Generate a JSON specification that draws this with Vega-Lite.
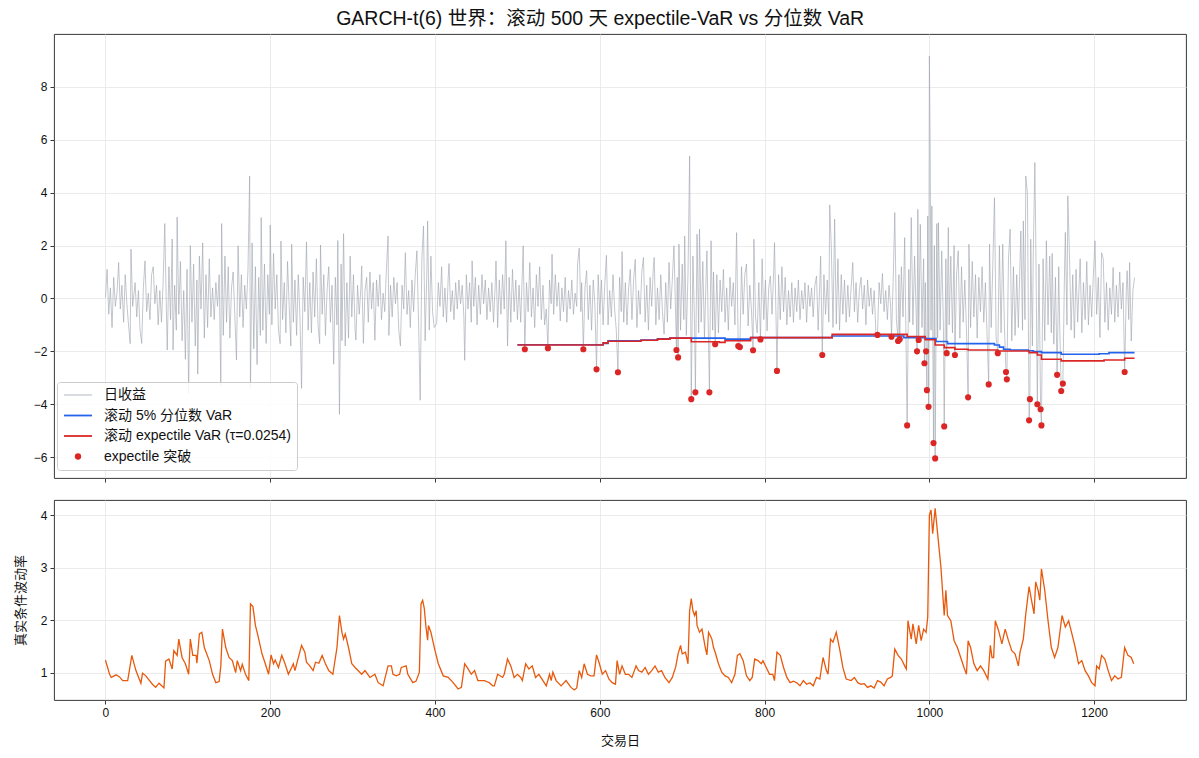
{
"$schema": "https://vega.github.io/schema/vega-lite/v6.json",
"background": "white",
"padding": {"left": 13, "top": 9, "right": 12, "bottom": 8},
"title": {"text": "GARCH-t(6) 世界：滚动 500 天 expectile-VaR vs 分位数 VaR", "fontSize": 19.5, "fontWeight": "normal", "font": "Liberation Sans, Noto Sans CJK SC", "color": "#111", "anchor": "middle", "frame": "bounds", "offset": 4},
"datasets": {
"ret": [
{"t":0,"r":0.03},{"t":2,"r":1.1},{"t":4,"r":-0.6},{"t":6,"r":0.4},{"t":8,"r":-1.1},{"t":10,"r":0.8},{"t":12,"r":-0.3},{"t":14,"r":0.2},{"t":16,"r":1.36},{"t":18,"r":-0.4},{"t":20,"r":0.5},{"t":22,"r":-0.9},{"t":24,"r":0.9},{"t":26,"r":-0.2},{"t":28,"r":-1.0},{"t":30,"r":-1.71},{"t":31,"r":1.86},{"t":33,"r":-0.3},{"t":36,"r":0.6},{"t":38,"r":-0.7},{"t":40,"r":0.3},{"t":42,"r":-1.2},{"t":44,"r":-1.7},{"t":46,"r":0.4},{"t":48,"r":1.42},{"t":50,"r":-0.5},{"t":52,"r":0.2},{"t":54,"r":-0.8},{"t":56,"r":0.9},{"t":58,"r":1.2},{"t":60,"r":-0.2},{"t":62,"r":0.5},{"t":64,"r":-1.0},{"t":66,"r":0.3},{"t":68,"r":-0.9},{"t":70,"r":0.6},
{"t":72,"r":2.83},{"t":74,"r":-0.5},{"t":75,"r":-1.95},{"t":77,"r":1.2},{"t":79,"r":-0.8},{"t":81,"r":2.25},{"t":82,"r":-1.95},{"t":84,"r":0.5},{"t":86,"r":-1.2},{"t":87,"r":3.08},{"t":89,"r":-0.6},{"t":91,"r":1.4},{"t":93,"r":-1.6},{"t":95,"r":0.3},{"t":97,"r":-2.3},{"t":99,"r":1.1},{"t":101,"r":-3.6},{"t":103,"r":2.0},{"t":105,"r":-0.9},{"t":107,"r":1.3},{"t":109,"r":-1.8},{"t":111,"r":0.7},{"t":112,"r":-2.86},{"t":114,"r":1.6},{"t":116,"r":-0.4},{"t":118,"r":2.1},{"t":120,"r":-1.5},{"t":122,"r":0.9},{"t":124,"r":-1.1},{"t":126,"r":1.5},{"t":128,"r":-0.7},{"t":130,"r":0.4},
{"t":132,"r":-0.8},{"t":134,"r":0.6},{"t":136,"r":-0.3},{"t":138,"r":0.9},{"t":140,"r":-3.3},{"t":141,"r":2.83},{"t":143,"r":-1.4},{"t":145,"r":1.6},{"t":147,"r":-0.9},{"t":149,"r":1.2},{"t":151,"r":-1.5},{"t":153,"r":0.4},{"t":155,"r":1.0},{"t":157,"r":-0.6},{"t":159,"r":-2.33},{"t":161,"r":1.99},{"t":163,"r":-0.7},{"t":165,"r":0.9},{"t":167,"r":-1.1},{"t":169,"r":0.5},{"t":171,"r":-0.4},{"t":173,"r":1.1},{"t":175,"r":4.63},{"t":176,"r":-3.4},
{"t":178,"r":2.1},{"t":180,"r":-1.9},{"t":182,"r":1.2},{"t":184,"r":-2.5},{"t":186,"r":0.8},{"t":188,"r":-1.4},{"t":189,"r":3.06},{"t":191,"r":-1.2},{"t":193,"r":1.3},{"t":195,"r":-1.7},{"t":197,"r":0.9},{"t":199,"r":-0.6},{"t":200,"r":2.78},
{"t":202,"r":-1.0},{"t":204,"r":1.7},{"t":206,"r":-0.4},{"t":208,"r":0.9},{"t":210,"r":-1.2},{"t":212,"r":-1.71},{"t":213,"r":2.17},{"t":215,"r":-0.8},{"t":217,"r":0.6},{"t":219,"r":-1.3},{"t":221,"r":1.4},{"t":223,"r":-0.3},{"t":225,"r":-1.8},{"t":226,"r":2.05},{"t":228,"r":-0.9},{"t":230,"r":0.7},{"t":232,"r":-1.4},{"t":234,"r":0.9},{"t":236,"r":-0.6},{"t":238,"r":-3.4},{"t":240,"r":0.8},{"t":242,"r":-0.5},{"t":244,"r":2.14},{"t":246,"r":-1.2},{"t":248,"r":0.6},{"t":250,"r":-1.3},{"t":252,"r":1.0},{"t":254,"r":-0.7},{"t":256,"r":1.5},{"t":258,"r":-1.0},{"t":260,"r":-1.71},{"t":261,"r":2.02},{"t":263,"r":-0.6},{"t":265,"r":0.9},{"t":267,"r":-1.4},{"t":269,"r":0.3},{"t":271,"r":1.2},{"t":273,"r":-0.9},{"t":275,"r":0.5},{"t":277,"r":-2.49},{"t":279,"r":0.8},{"t":281,"r":-1.0},{"t":282,"r":2.19},{"t":284,"r":-4.38},
{"t":286,"r":1.3},{"t":287,"r":-1.6},{"t":289,"r":2.45},{"t":291,"r":-1.8},{"t":293,"r":0.6},{"t":295,"r":-1.5},{"t":297,"r":1.6},{"t":299,"r":-0.7},
{"t":301,"r":0.9},{"t":303,"r":-1.2},{"t":304,"r":-1.57},{"t":306,"r":0.5},{"t":308,"r":-0.6},{"t":310,"r":0.4},{"t":311,"r":1.23},{"t":313,"r":-1.7},{"t":315,"r":0.3},{"t":317,"r":0.8},{"t":319,"r":-0.9},{"t":321,"r":1.0},{"t":323,"r":-0.4},{"t":325,"r":0.6},{"t":327,"r":-1.58},{"t":329,"r":0.7},{"t":331,"r":-0.3},{"t":333,"r":0.9},{"t":335,"r":-0.8},{"t":337,"r":0.2},{"t":339,"r":-0.5},{"t":341,"r":1.1},{"t":343,"r":2.36},{"t":344,"r":-1.4},{"t":346,"r":0.5},{"t":348,"r":-0.7},{"t":350,"r":0.8},{"t":352,"r":-0.2},{"t":354,"r":0.6},{"t":356,"r":-1.2},{"t":358,"r":-1.8},{"t":360,"r":0.5},{"t":362,"r":-0.4},{"t":364,"r":1.73},{"t":366,"r":-0.6},{"t":368,"r":0.3},{"t":370,"r":-1.1},{"t":372,"r":0.7},{"t":374,"r":-0.5},{"t":376,"r":0.9},{"t":378,"r":1.8},{"t":380,"r":-0.9},{"t":382,"r":-3.85},
{"t":384,"r":1.5},{"t":386,"r":2.74},{"t":388,"r":-1.6},{"t":390,"r":0.9},{"t":391,"r":2.93},{"t":393,"r":-1.2},{"t":395,"r":1.6},{"t":397,"r":-0.5},{"t":399,"r":-1.1},
{"t":402,"r":-0.95},{"t":404,"r":0.6},{"t":406,"r":-0.3},{"t":408,"r":1.2},{"t":410,"r":-0.7},{"t":412,"r":0.4},{"t":414,"r":-0.9},{"t":416,"r":0.8},{"t":417,"r":1.32},{"t":419,"r":-0.5},{"t":421,"r":0.3},{"t":423,"r":-0.8},{"t":425,"r":0.6},{"t":427,"r":-0.4},{"t":429,"r":0.7},{"t":431,"r":-0.2},{"t":433,"r":0.5},{"t":435,"r":-0.7},{"t":436,"r":-2.34},{"t":438,"r":0.9},{"t":440,"r":-0.4},{"t":442,"r":0.6},{"t":444,"r":-0.9},{"t":445,"r":1.42},{"t":447,"r":-0.3},{"t":449,"r":0.8},{"t":451,"r":-1.0},{"t":453,"r":0.5},{"t":455,"r":-0.6},{"t":457,"r":0.9},{"t":459,"r":-0.2},{"t":461,"r":0.7},{"t":463,"r":-0.8},{"t":465,"r":0.4},{"t":467,"r":-0.5},{"t":469,"r":0.6},
{"t":471,"r":-0.9},{"t":473,"r":0.5},{"t":474,"r":1.42},{"t":476,"r":-1.1},{"t":478,"r":0.7},{"t":480,"r":-0.6},{"t":482,"r":0.9},{"t":484,"r":-0.4},{"t":486,"r":2.18},{"t":488,"r":-1.8},{"t":490,"r":0.8},{"t":492,"r":-0.9},{"t":494,"r":1.1},{"t":496,"r":-0.5},{"t":498,"r":0.7},{"t":500,"r":-0.8},
{"t":502,"r":0.5},{"t":504,"r":-0.9},{"t":506,"r":1.0},{"t":507,"r":1.99},{"t":509,"r":-1.92},{"t":511,"r":0.6},{"t":513,"r":-0.5},{"t":515,"r":1.36},{"t":517,"r":-0.7},{"t":519,"r":0.4},{"t":521,"r":-1.1},{"t":523,"r":0.9},{"t":525,"r":-0.3},{"t":527,"r":1.2},{"t":529,"r":-0.8},{"t":531,"r":0.5},{"t":533,"r":-1.0},{"t":535,"r":-0.4},{"t":537,"r":-1.88},{"t":539,"r":0.7},{"t":541,"r":-0.2},{"t":542,"r":1.67},{"t":544,"r":-0.6},{"t":546,"r":0.9},{"t":548,"r":-0.3},{"t":550,"r":0.6},{"t":552,"r":-0.85},{"t":554,"r":0.4},{"t":556,"r":-0.5},{"t":558,"r":0.8},{"t":560,"r":-0.9},{"t":562,"r":0.3},{"t":564,"r":-0.4},{"t":566,"r":0.7},{"t":568,"r":-0.6},{"t":570,"r":0.2},{"t":572,"r":-0.3},{"t":573,"r":1.3},{"t":575,"r":1.9},{"t":577,"r":-0.5},{"t":578,"r":0.6},{"t":580,"r":-1.92},{"t":582,"r":0.4},{"t":584,"r":1.05},{"t":586,"r":-0.8},{"t":588,"r":0.5},{"t":590,"r":-1.2},{"t":592,"r":0.7},{"t":594,"r":-0.2},{"t":596,"r":-2.68},{"t":598,"r":0.9},{"t":600,"r":-0.6},{"t":602,"r":0.7},{"t":604,"r":-1.0},{"t":606,"r":0.5},{"t":608,"r":1.63},{"t":610,"r":-1.0},{"t":612,"r":0.3},{"t":614,"r":-0.7},{"t":616,"r":0.9},{"t":618,"r":-0.4},{"t":620,"r":-1.2},{"t":622,"r":-2.79},{"t":624,"r":0.8},{"t":626,"r":-0.5},{"t":627,"r":1.77},{"t":629,"r":-0.9},{"t":631,"r":0.6},{"t":633,"r":-1.0},{"t":635,"r":0.4},{"t":637,"r":1.1},{"t":639,"r":-0.8},{"t":641,"r":0.7},{"t":643,"r":1.48},{"t":645,"r":-1.1},{"t":647,"r":0.3},{"t":649,"r":-0.6},{"t":651,"r":1.0},{"t":653,"r":1.55},{"t":655,"r":-0.9},{"t":657,"r":0.5},{"t":659,"r":-1.2},{"t":661,"r":0.8},{"t":663,"r":-0.3},{"t":665,"r":1.2},{"t":666,"r":1.55},{"t":668,"r":-1.0},{"t":670,"r":0.4},{"t":672,"r":-0.8},{"t":674,"r":0.9},{"t":676,"r":-0.5},{"t":678,"r":-1.35},{"t":680,"r":0.6},{"t":682,"r":-0.9},{"t":684,"r":1.36},{"t":686,"r":-0.4},{"t":688,"r":0.7},{"t":690,"r":1.99},{"t":692,"r":-0.6},{"t":693,"r":-1.95},{"t":694,"r":0.8},{"t":695,"r":-2.23},{"t":696,"r":2.05},
{"t":698,"r":-1.2},{"t":700,"r":1.3},{"t":702,"r":-0.8},{"t":703,"r":2.36},{"t":705,"r":-1.4},{"t":707,"r":0.9},{"t":709,"r":5.39},{"t":711,"r":-3.81},{"t":713,"r":1.6},{"t":715,"r":-1.0},{"t":716,"r":-3.55},{"t":718,"r":2.43},{"t":720,"r":-1.3},{"t":721,"r":2.62},{"t":723,"r":-0.9},{"t":725,"r":1.4},{"t":727,"r":-1.5},{"t":729,"r":0.8},{"t":730,"r":1.8},{"t":733,"r":-3.55},{"t":735,"r":2.18},{"t":737,"r":-1.2},{"t":738,"r":1.0},{"t":740,"r":-1.73},{"t":742,"r":0.9},{"t":744,"r":-1.3},
{"t":746,"r":0.7},{"t":748,"r":-0.5},{"t":750,"r":1.1},{"t":752,"r":-0.9},{"t":754,"r":0.4},{"t":756,"r":-1.2},{"t":758,"r":0.8},{"t":760,"r":-0.3},{"t":762,"r":0.6},{"t":764,"r":-1.0},{"t":766,"r":2.49},{"t":768,"r":-1.8},{"t":770,"r":-1.84},{"t":772,"r":1.2},{"t":774,"r":-0.6},{"t":776,"r":0.9},{"t":778,"r":1.3},{"t":780,"r":-1.04},{"t":782,"r":0.5},{"t":784,"r":-0.4},{"t":786,"r":-1.96},{"t":787,"r":2.24},{"t":789,"r":-0.7},{"t":791,"r":-1.3},{"t":793,"r":0.6},{"t":795,"r":-1.55},{"t":797,"r":1.5},{"t":799,"r":-0.8},{"t":801,"r":0.7},{"t":803,"r":-1.23},{"t":805,"r":0.4},{"t":807,"r":0.85},{"t":809,"r":-0.6},{"t":811,"r":1.0},{"t":812,"r":2.11},{"t":814,"r":-0.9},{"t":815,"r":-2.74},{"t":817,"r":0.9},{"t":819,"r":-0.8},{"t":821,"r":1.2},{"t":823,"r":-0.5},{"t":825,"r":0.8},{"t":827,"r":-1.0},{"t":829,"r":0.3},{"t":831,"r":-0.7},{"t":833,"r":0.6},{"t":835,"r":-0.9},{"t":837,"r":0.4},{"t":839,"r":-0.5},{"t":841,"r":0.7},{"t":843,"r":-0.8},{"t":845,"r":0.3},{"t":847,"r":-0.4},{"t":849,"r":0.6},{"t":851,"r":-0.9},{"t":853,"r":0.5},{"t":855,"r":-0.3},{"t":857,"r":0.4},{"t":859,"r":-0.7},{"t":861,"r":0.5},{"t":863,"r":0.85},{"t":865,"r":-1.2},{"t":867,"r":0.6},{"t":868,"r":1.6},{"t":870,"r":-2.14},{"t":872,"r":0.9},{"t":874,"r":-0.6},{"t":876,"r":0.7},{"t":878,"r":-0.9},{"t":879,"r":3.54},{"t":881,"r":1.92},{"t":883,"r":-1.1},{"t":885,"r":3.0},{"t":887,"r":-0.97},{"t":889,"r":1.5},{"t":891,"r":-1.2},{"t":893,"r":0.9},{"t":895,"r":-0.6},{"t":897,"r":0.7},{"t":899,"r":-0.9},
{"t":901,"r":0.5},{"t":903,"r":-0.7},{"t":905,"r":0.4},{"t":907,"r":1.36},{"t":909,"r":-0.5},{"t":911,"r":0.6},{"t":913,"r":-0.9},{"t":915,"r":0.3},{"t":917,"r":0.8},{"t":919,"r":-0.4},{"t":921,"r":0.5},{"t":923,"r":-1.0},{"t":925,"r":0.7},{"t":927,"r":-0.3},{"t":929,"r":0.4},{"t":931,"r":-0.6},{"t":933,"r":0.3},{"t":935,"r":-1.25},{"t":937,"r":-1.38},{"t":939,"r":0.6},{"t":941,"r":-0.2},{"t":943,"r":0.94},{"t":945,"r":-0.5},{"t":947,"r":0.3},{"t":949,"r":-0.8},{"t":951,"r":0.5},{"t":953,"r":-0.3},{"t":954,"r":-1.45},{"t":956,"r":0.6},
{"t":958,"r":3.25},{"t":960,"r":-0.8},{"t":962,"r":-1.61},{"t":963,"r":0.9},{"t":964,"r":-1.54},{"t":966,"r":1.2},{"t":968,"r":-0.7},{"t":970,"r":2.3},{"t":973,"r":-4.8},{"t":975,"r":1.1},{"t":976,"r":-0.9},{"t":978,"r":3.06},{"t":980,"r":-1.0},{"t":982,"r":1.6},{"t":984,"r":-0.6},{"t":985,"r":-2.0},{"t":986,"r":3.37},{"t":987,"r":-1.57},{"t":989,"r":2.8},{"t":991,"r":-1.1},{"t":993,"r":1.5},{"t":994,"r":-2.45},{"t":995,"r":0.6},{"t":996,"r":-2.0},{"t":997,"r":-3.47},{"t":998,"r":3.12},{"t":999,"r":-4.1},{"t":1000,"r":9.17},{"t":1001,"r":5.52},
{"t":1002,"r":-1.2},{"t":1003,"r":3.5},{"t":1005,"r":-5.47},{"t":1006,"r":2.0},{"t":1007,"r":-6.05},{"t":1009,"r":2.83},{"t":1010,"r":-1.5},{"t":1011,"r":2.87},{"t":1013,"r":-1.2},{"t":1015,"r":1.8},{"t":1017,"r":-1.0},{"t":1018,"r":-4.84},{"t":1020,"r":1.5},{"t":1021,"r":-2.07},{"t":1023,"r":2.68},{"t":1024,"r":-1.0},{"t":1026,"r":1.6},{"t":1028,"r":-1.3},{"t":1030,"r":2.0},{"t":1031,"r":-2.14},{"t":1033,"r":0.9},{"t":1035,"r":1.8},{"t":1037,"r":-1.5},{"t":1039,"r":1.2},{"t":1041,"r":-0.9},{"t":1043,"r":0.7},{"t":1045,"r":-1.2},{"t":1047,"r":-3.74},{"t":1048,"r":2.05},{"t":1050,"r":-1.1},{"t":1052,"r":1.4},{"t":1054,"r":-0.7},{"t":1056,"r":0.9},{"t":1058,"r":-1.5},{"t":1060,"r":0.8},{"t":1062,"r":-0.5},{"t":1064,"r":1.2},{"t":1066,"r":-0.9},{"t":1068,"r":0.6},{"t":1070,"r":-1.4},{"t":1072,"r":-3.25},{"t":1073,"r":2.05},{"t":1075,"r":-1.1},{"t":1077,"r":1.3},{"t":1079,"r":3.81},{"t":1081,"r":-1.5},{"t":1083,"r":-2.07},{"t":1085,"r":2.0},{"t":1087,"r":-1.3},{"t":1089,"r":2.05},{"t":1091,"r":-1.0},{"t":1093,"r":-2.78},{"t":1094,"r":-3.06},{"t":1096,"r":1.5},{"t":1098,"r":2.62},{"t":1100,"r":-1.6},{"t":1102,"r":1.2},{"t":1104,"r":-1.4},{"t":1106,"r":0.9},{"t":1108,"r":-1.1},{"t":1110,"r":1.4},{"t":1111,"r":2.55},{"t":1113,"r":-1.2},{"t":1114,"r":2.93},{"t":1116,"r":-0.8},{"t":1117,"r":4.63},{"t":1119,"r":3.94},{"t":1121,"r":-4.61},{"t":1122,"r":-3.81},{"t":1123,"r":2.24},{"t":1125,"r":-1.8},{"t":1126,"r":1.5},{"t":1128,"r":5.14},{"t":1129,"r":2.6},{"t":1131,"r":-4.0},{"t":1133,"r":1.3},{"t":1135,"r":-4.19},{"t":1136,"r":-4.8},{"t":1138,"r":1.5},{"t":1140,"r":-1.6},{"t":1142,"r":2.18},{"t":1144,"r":-1.0},{"t":1146,"r":1.6},{"t":1148,"r":-1.3},{"t":1149,"r":1.7},{"t":1151,"r":-1.73},{"t":1153,"r":0.8},{"t":1155,"r":-2.89},{"t":1157,"r":1.2},{"t":1158,"r":-0.8},{"t":1160,"r":-3.5},{"t":1162,"r":-3.22},{"t":1164,"r":1.0},{"t":1165,"r":2.5},{"t":1167,"r":-1.0},{"t":1168,"r":3.88},{"t":1170,"r":1.65},{"t":1172,"r":-1.2},{"t":1174,"r":0.9},{"t":1176,"r":-1.5},{"t":1178,"r":1.1},{"t":1180,"r":-0.9},{"t":1182,"r":0.7},{"t":1183,"r":1.5},{"t":1185,"r":-1.3},{"t":1187,"r":0.6},{"t":1189,"r":-0.8},{"t":1191,"r":1.4},{"t":1193,"r":-1.0},{"t":1195,"r":0.5},{"t":1197,"r":-0.7},{"t":1199,"r":0.9},{"t":1201,"r":2.18},{"t":1203,"r":-0.6},{"t":1205,"r":0.8},{"t":1207,"r":-1.48},{"t":1209,"r":1.73},{"t":1211,"r":1.5},{"t":1213,"r":-0.9},{"t":1215,"r":0.6},{"t":1217,"r":-1.2},{"t":1219,"r":0.4},{"t":1221,"r":-0.6},{"t":1223,"r":1.17},{"t":1225,"r":-0.9},{"t":1227,"r":0.5},{"t":1229,"r":-0.7},{"t":1231,"r":1.0},{"t":1233,"r":-0.4},{"t":1235,"r":0.6},{"t":1237,"r":-2.78},{"t":1239,"r":0.3},{"t":1240,"r":1.05},{"t":1242,"r":-0.8},{"t":1243,"r":1.36},{"t":1245,"r":-1.61},{"t":1247,"r":0.3},{"t":1249,"r":0.79}
],
"q": [
{"t":500,"v":-1.75},{"t":598,"v":-1.75},{"t":604,"v":-1.7},{"t":610,"v":-1.6},{"t":650,"v":-1.57},{"t":670,"v":-1.53},{"t":685,"v":-1.5},{"t":745,"v":-1.5},{"t":752,"v":-1.54},{"t":783,"v":-1.48},{"t":882,"v":-1.42},{"t":969,"v":-1.48},{"t":995,"v":-1.52},{"t":1008,"v":-1.63},{"t":1022,"v":-1.71},{"t":1079,"v":-1.76},{"t":1085,"v":-1.84},{"t":1090,"v":-1.92},{"t":1098,"v":-1.95},{"t":1120,"v":-1.98},{"t":1126,"v":-2.01},{"t":1136,"v":-2.05},{"t":1160,"v":-2.11},{"t":1206,"v":-2.09},{"t":1218,"v":-2.05},{"t":1249,"v":-2.05}
],
"e": [
{"t":500,"v":-1.76},{"t":598,"v":-1.76},{"t":604,"v":-1.68},{"t":610,"v":-1.62},{"t":650,"v":-1.58},{"t":670,"v":-1.54},{"t":685,"v":-1.5},{"t":711,"v":-1.64},{"t":745,"v":-1.66},{"t":752,"v":-1.6},{"t":783,"v":-1.48},{"t":882,"v":-1.36},{"t":973,"v":-1.44},{"t":995,"v":-1.56},{"t":1007,"v":-1.76},{"t":1018,"v":-1.86},{"t":1031,"v":-1.92},{"t":1047,"v":-1.95},{"t":1083,"v":-1.99},{"t":1121,"v":-2.05},{"t":1131,"v":-2.14},{"t":1136,"v":-2.3},{"t":1160,"v":-2.36},{"t":1212,"v":-2.33},{"t":1237,"v":-2.26},{"t":1249,"v":-2.26}
],
"br": [
{"t":509,"v":-1.92},{"t":537,"v":-1.88},{"t":580,"v":-1.92},{"t":596,"v":-2.68},{"t":622,"v":-2.79},{"t":693,"v":-1.95},{"t":695,"v":-2.23},{"t":711,"v":-3.81},{"t":716,"v":-3.55},{"t":733,"v":-3.55},{"t":740,"v":-1.73},{"t":768,"v":-1.8},{"t":770,"v":-1.84},{"t":786,"v":-1.96},{"t":795,"v":-1.55},{"t":815,"v":-2.74},{"t":870,"v":-2.14},{"t":937,"v":-1.38},{"t":954,"v":-1.45},{"t":962,"v":-1.61},{"t":964,"v":-1.54},{"t":973,"v":-4.8},{"t":985,"v":-2.0},{"t":987,"v":-1.57},{"t":994,"v":-2.45},{"t":996,"v":-2.0},{"t":997,"v":-3.47},{"t":999,"v":-4.1},{"t":1005,"v":-5.47},{"t":1007,"v":-6.05},{"t":1018,"v":-4.84},{"t":1021,"v":-2.07},{"t":1031,"v":-2.14},{"t":1047,"v":-3.74},{"t":1072,"v":-3.25},{"t":1083,"v":-2.07},{"t":1093,"v":-2.78},{"t":1094,"v":-3.06},{"t":1121,"v":-4.61},{"t":1122,"v":-3.81},{"t":1131,"v":-4.0},{"t":1135,"v":-4.19},{"t":1136,"v":-4.8},{"t":1155,"v":-2.89},{"t":1160,"v":-3.5},{"t":1162,"v":-3.22},{"t":1237,"v":-2.78}
],
"vol": [
{"t":0,"v":1.24},{"t":5,"v":0.97},{"t":7,"v":0.91},{"t":13,"v":0.96},{"t":17,"v":0.92},{"t":21,"v":0.85},{"t":27,"v":0.85},{"t":32,"v":1.33},{"t":37,"v":1.04},{"t":43,"v":0.8},{"t":45,"v":0.99},{"t":49,"v":0.94},{"t":53,"v":0.86},{"t":57,"v":0.78},{"t":61,"v":0.72},{"t":65,"v":0.8},{"t":71,"v":0.71},{"t":73,"v":1.22},{"t":77,"v":1.26},{"t":81,"v":1.07},{"t":83,"v":1.42},{"t":87,"v":1.33},{"t":89,"v":1.64},{"t":93,"v":1.29},{"t":97,"v":1.17},{"t":101,"v":0.97},{"t":103,"v":1.64},{"t":106,"v":1.33},{"t":110,"v":1.33},{"t":111,"v":1.18},{"t":114,"v":1.74},{"t":117,"v":1.77},{"t":120,"v":1.48},{"t":126,"v":1.23},{"t":130,"v":0.97},{"t":134,"v":0.81},{"t":138,"v":0.83},{"t":140,"v":1.13},{"t":142,"v":1.83},{"t":146,"v":1.48},{"t":150,"v":1.29},{"t":154,"v":1.23},{"t":158,"v":1.0},{"t":160,"v":1.23},{"t":164,"v":1.04},{"t":166,"v":1.16},{"t":170,"v":0.97},{"t":174,"v":0.85},{"t":176,"v":2.31},{"t":179,"v":2.26},{"t":182,"v":1.9},{"t":185,"v":1.71},{"t":190,"v":1.36},{"t":194,"v":1.17},{"t":198,"v":0.97},{"t":201,"v":1.34},{"t":204,"v":1.17},{"t":206,"v":1.24},{"t":210,"v":1.1},{"t":214,"v":1.33},{"t":218,"v":1.17},{"t":222,"v":0.97},{"t":226,"v":1.1},{"t":228,"v":1.17},{"t":230,"v":1.04},{"t":238,"v":1.52},{"t":242,"v":1.39},{"t":244,"v":1.2},{"t":248,"v":1.13},{"t":252,"v":1.04},{"t":255,"v":1.2},{"t":259,"v":1.18},{"t":263,"v":1.33},{"t":267,"v":1.17},{"t":271,"v":1.04},{"t":276,"v":0.97},{"t":281,"v":1.48},{"t":284,"v":2.09},{"t":287,"v":1.77},{"t":289,"v":1.64},{"t":291,"v":1.74},{"t":295,"v":1.48},{"t":299,"v":1.17},{"t":303,"v":1.1},{"t":311,"v":0.97},{"t":315,"v":1.04},{"t":321,"v":0.91},{"t":327,"v":0.97},{"t":331,"v":0.81},{"t":337,"v":0.75},{"t":343,"v":1.13},{"t":347,"v":1.13},{"t":349,"v":0.97},{"t":353,"v":0.94},{"t":357,"v":0.97},{"t":359,"v":1.1},{"t":365,"v":1.13},{"t":367,"v":0.97},{"t":373,"v":0.81},{"t":377,"v":0.84},{"t":381,"v":1.01},{"t":383,"v":2.31},{"t":385,"v":2.38},{"t":387,"v":2.22},{"t":389,"v":1.87},{"t":391,"v":1.62},{"t":392,"v":1.9},{"t":395,"v":1.77},{"t":400,"v":1.42},{"t":404,"v":1.17},{"t":410,"v":0.94},{"t":416,"v":0.91},{"t":422,"v":0.81},{"t":428,"v":0.69},{"t":432,"v":0.72},{"t":436,"v":1.17},{"t":439,"v":1.1},{"t":444,"v":0.97},{"t":448,"v":1.04},{"t":452,"v":0.85},{"t":460,"v":0.85},{"t":466,"v":0.81},{"t":470,"v":0.75},{"t":472,"v":0.75},{"t":476,"v":0.97},{"t":482,"v":0.91},{"t":484,"v":0.97},{"t":488,"v":1.26},{"t":492,"v":1.13},{"t":496,"v":0.91},{"t":500,"v":0.97},{"t":504,"v":0.91},{"t":506,"v":0.85},{"t":510,"v":1.17},{"t":514,"v":1.07},{"t":518,"v":1.13},{"t":522,"v":0.91},{"t":526,"v":0.97},{"t":531,"v":0.85},{"t":535,"v":0.75},{"t":539,"v":0.97},{"t":541,"v":0.85},{"t":543,"v":1.01},{"t":547,"v":0.85},{"t":553,"v":0.75},{"t":559,"v":0.85},{"t":565,"v":0.72},{"t":569,"v":0.67},{"t":572,"v":0.71},{"t":575,"v":1.04},{"t":578,"v":0.91},{"t":581,"v":1.17},{"t":585,"v":0.97},{"t":589,"v":0.94},{"t":593,"v":0.94},{"t":596,"v":1.34},{"t":599,"v":1.2},{"t":603,"v":0.97},{"t":607,"v":1.04},{"t":611,"v":0.88},{"t":615,"v":0.81},{"t":619,"v":0.78},{"t":621,"v":1.23},{"t":624,"v":0.97},{"t":627,"v":1.13},{"t":631,"v":0.97},{"t":635,"v":0.97},{"t":639,"v":0.91},{"t":644,"v":1.13},{"t":647,"v":1.04},{"t":651,"v":1.01},{"t":655,"v":1.1},{"t":659,"v":0.97},{"t":663,"v":1.04},{"t":667,"v":1.13},{"t":671,"v":1.01},{"t":675,"v":1.04},{"t":679,"v":0.91},{"t":684,"v":0.81},{"t":688,"v":0.91},{"t":690,"v":1.01},{"t":692,"v":1.1},{"t":695,"v":1.36},{"t":698,"v":1.52},{"t":700,"v":1.36},{"t":704,"v":1.39},{"t":707,"v":1.17},{"t":709,"v":2.18},{"t":711,"v":2.41},{"t":713,"v":2.18},{"t":715,"v":2.09},{"t":717,"v":2.18},{"t":718,"v":1.9},{"t":721,"v":1.77},{"t":724,"v":1.83},{"t":728,"v":1.48},{"t":730,"v":1.34},{"t":732,"v":1.77},{"t":734,"v":1.71},{"t":736,"v":1.64},{"t":738,"v":1.48},{"t":740,"v":1.39},{"t":744,"v":1.17},{"t":748,"v":1.01},{"t":752,"v":0.94},{"t":756,"v":0.91},{"t":760,"v":0.81},{"t":764,"v":0.97},{"t":767,"v":1.33},{"t":770,"v":1.36},{"t":774,"v":1.23},{"t":778,"v":0.94},{"t":782,"v":0.85},{"t":785,"v":0.91},{"t":788,"v":1.26},{"t":792,"v":1.23},{"t":796,"v":1.17},{"t":798,"v":1.23},{"t":802,"v":1.1},{"t":806,"v":0.97},{"t":810,"v":0.97},{"t":812,"v":0.85},{"t":815,"v":1.39},{"t":819,"v":1.33},{"t":823,"v":1.1},{"t":827,"v":0.91},{"t":831,"v":0.81},{"t":835,"v":0.84},{"t":839,"v":0.81},{"t":843,"v":0.75},{"t":847,"v":0.85},{"t":851,"v":0.78},{"t":855,"v":0.81},{"t":859,"v":0.75},{"t":863,"v":0.91},{"t":867,"v":0.88},{"t":871,"v":1.29},{"t":875,"v":1.04},{"t":877,"v":0.97},{"t":880,"v":1.64},{"t":883,"v":1.58},{"t":887,"v":1.77},{"t":891,"v":1.46},{"t":895,"v":1.1},{"t":899,"v":0.88},{"t":905,"v":0.85},{"t":909,"v":0.91},{"t":913,"v":0.81},{"t":917,"v":0.78},{"t":921,"v":0.79},{"t":925,"v":0.72},{"t":929,"v":0.75},{"t":933,"v":0.71},{"t":937,"v":0.85},{"t":941,"v":0.82},{"t":945,"v":0.75},{"t":949,"v":0.88},{"t":953,"v":0.91},{"t":955,"v":0.94},{"t":958,"v":1.45},{"t":962,"v":1.33},{"t":966,"v":1.26},{"t":970,"v":1.13},{"t":972,"v":1.07},{"t":974,"v":1.99},{"t":978,"v":1.64},{"t":980,"v":1.93},{"t":984,"v":1.55},{"t":987,"v":1.9},{"t":990,"v":1.61},{"t":993,"v":1.83},{"t":996,"v":1.77},{"t":998,"v":2.06},{"t":1000,"v":4.0},{"t":1002,"v":4.1},{"t":1004,"v":3.65},{"t":1007,"v":4.13},{"t":1010,"v":3.65},{"t":1014,"v":3.01},{"t":1018,"v":2.09},{"t":1020,"v":2.57},{"t":1022,"v":2.09},{"t":1026,"v":1.99},{"t":1030,"v":1.61},{"t":1034,"v":1.48},{"t":1038,"v":1.29},{"t":1042,"v":1.1},{"t":1045,"v":0.97},{"t":1047,"v":1.61},{"t":1050,"v":1.48},{"t":1054,"v":1.17},{"t":1058,"v":1.04},{"t":1062,"v":1.13},{"t":1066,"v":1.04},{"t":1071,"v":0.88},{"t":1074,"v":1.52},{"t":1076,"v":1.29},{"t":1078,"v":1.29},{"t":1080,"v":1.99},{"t":1084,"v":1.8},{"t":1088,"v":1.55},{"t":1092,"v":1.83},{"t":1096,"v":1.61},{"t":1100,"v":1.42},{"t":1104,"v":1.36},{"t":1108,"v":1.13},{"t":1110,"v":1.39},{"t":1114,"v":1.64},{"t":1117,"v":2.12},{"t":1121,"v":2.64},{"t":1124,"v":2.38},{"t":1127,"v":2.12},{"t":1129,"v":2.73},{"t":1132,"v":2.57},{"t":1134,"v":2.38},{"t":1136,"v":2.98},{"t":1140,"v":2.57},{"t":1144,"v":1.99},{"t":1148,"v":1.48},{"t":1152,"v":1.29},{"t":1156,"v":1.48},{"t":1161,"v":2.09},{"t":1165,"v":1.87},{"t":1169,"v":1.99},{"t":1173,"v":1.74},{"t":1177,"v":1.48},{"t":1181,"v":1.17},{"t":1185,"v":1.23},{"t":1189,"v":1.04},{"t":1193,"v":0.94},{"t":1197,"v":0.81},{"t":1201,"v":0.75},{"t":1203,"v":1.13},{"t":1206,"v":1.07},{"t":1209,"v":1.33},{"t":1213,"v":1.26},{"t":1217,"v":1.04},{"t":1221,"v":0.85},{"t":1225,"v":0.94},{"t":1229,"v":0.88},{"t":1233,"v":0.91},{"t":1237,"v":1.48},{"t":1241,"v":1.33},{"t":1245,"v":1.29},{"t":1248,"v":1.17}
]
},
"vconcat": [
{
"width": 1132, "height": 444,
"layer": [
{"data": {"name": "ret"}, "mark": {"type": "line", "strokeWidth": 0.7, "opacity": 0.9},
 "encoding": {
  "x": {"field": "t", "type": "quantitative", "scale": {"domain": [-62.45, 1311.45], "nice": false, "zero": false}, "axis": {"values": [0,200,400,600,800,1000,1200], "labels": false, "title": null, "grid": true}},
  "y": {"field": "r", "type": "quantitative", "scale": {"domain": [-6.79, 10.0], "nice": false, "zero": false}, "axis": {"values": [-6,-4,-2,0,2,4,6,8], "title": null}},
  "color": {"datum": "日收益", "type": "nominal",
   "scale": {"domain": ["日收益", "滚动 5% 分位数 VaR", "滚动 expectile VaR (τ=0.0254)", "expectile 突破"], "range": ["#a0a6b0", "#2563eb", "#dc2626", "#dc2626"]},
   "legend": {"title": null, "orient": "none", "legendX": 3, "legendY": 348, "fillColor": "rgba(255,255,255,0.85)", "strokeColor": "#cccccc", "cornerRadius": 3, "padding": 6, "labelFontSize": 14, "labelColor": "#111", "labelFont": "Liberation Sans, Noto Sans CJK SC", "labelLimit": 400, "symbolSize": 361, "symbolOffset": 8, "labelOffset": 19, "rowPadding": 6.5,
    "encode": {"symbols": {"update": {
     "shape": {"signal": "datum.value === 'expectile 突破' ? 'circle' : 'stroke'"},
     "size": {"signal": "datum.value === 'expectile 突破' ? 40 : 784"},
     "strokeWidth": {"signal": "datum.value === '日收益' ? 0.8 : (datum.value === 'expectile 突破' ? 0 : 1.8)"},
     "stroke": {"signal": "datum.value === '日收益' ? '#a0a6b0' : (datum.value === '滚动 5% 分位数 VaR' ? '#2563eb' : '#dc2626')"},
     "fill": {"signal": "datum.value === 'expectile 突破' ? '#dc2626' : 'transparent'"},
     "opacity": {"value": 1}
    }}}
   }}
 }},
{"data": {"name": "q"}, "mark": {"type": "line", "interpolate": "step-after", "strokeWidth": 1.6},
 "encoding": {"x": {"field": "t", "type": "quantitative"}, "y": {"field": "v", "type": "quantitative"},
  "color": {"datum": "滚动 5% 分位数 VaR", "type": "nominal",
   "legend": {"title": null, "orient": "none", "legendX": 3, "legendY": 348, "fillColor": "rgba(255,255,255,0.85)", "strokeColor": "#cccccc", "cornerRadius": 3, "padding": 6, "labelFontSize": 14, "labelColor": "#111", "labelFont": "Liberation Sans, Noto Sans CJK SC", "labelLimit": 400, "symbolSize": 361, "symbolOffset": 8, "labelOffset": 19, "rowPadding": 6.5,
    "encode": {"symbols": {"update": {
     "shape": {"signal": "datum.value === 'expectile 突破' ? 'circle' : 'stroke'"},
     "size": {"signal": "datum.value === 'expectile 突破' ? 40 : 784"},
     "strokeWidth": {"signal": "datum.value === '日收益' ? 0.8 : (datum.value === 'expectile 突破' ? 0 : 1.8)"},
     "stroke": {"signal": "datum.value === '日收益' ? '#a0a6b0' : (datum.value === '滚动 5% 分位数 VaR' ? '#2563eb' : '#dc2626')"},
     "fill": {"signal": "datum.value === 'expectile 突破' ? '#dc2626' : 'transparent'"},
     "opacity": {"value": 1}
    }}}
   }}}},
{"data": {"name": "e"}, "mark": {"type": "line", "interpolate": "step-after", "strokeWidth": 1.6},
 "encoding": {"x": {"field": "t", "type": "quantitative"}, "y": {"field": "v", "type": "quantitative"},
  "color": {"datum": "滚动 expectile VaR (τ=0.0254)", "type": "nominal",
   "legend": {"title": null, "orient": "none", "legendX": 3, "legendY": 348, "fillColor": "rgba(255,255,255,0.85)", "strokeColor": "#cccccc", "cornerRadius": 3, "padding": 6, "labelFontSize": 14, "labelColor": "#111", "labelFont": "Liberation Sans, Noto Sans CJK SC", "labelLimit": 400, "symbolSize": 361, "symbolOffset": 8, "labelOffset": 19, "rowPadding": 6.5,
    "encode": {"symbols": {"update": {
     "shape": {"signal": "datum.value === 'expectile 突破' ? 'circle' : 'stroke'"},
     "size": {"signal": "datum.value === 'expectile 突破' ? 40 : 784"},
     "strokeWidth": {"signal": "datum.value === '日收益' ? 0.8 : (datum.value === 'expectile 突破' ? 0 : 1.8)"},
     "stroke": {"signal": "datum.value === '日收益' ? '#a0a6b0' : (datum.value === '滚动 5% 分位数 VaR' ? '#2563eb' : '#dc2626')"},
     "fill": {"signal": "datum.value === 'expectile 突破' ? '#dc2626' : 'transparent'"},
     "opacity": {"value": 1}
    }}}
   }}}},
{"data": {"name": "br"}, "mark": {"type": "circle", "size": 38, "opacity": 1},
 "encoding": {"x": {"field": "t", "type": "quantitative"}, "y": {"field": "v", "type": "quantitative"},
  "color": {"datum": "expectile 突破", "type": "nominal",
   "legend": {"title": null, "orient": "none", "legendX": 3, "legendY": 348, "fillColor": "rgba(255,255,255,0.85)", "strokeColor": "#cccccc", "cornerRadius": 3, "padding": 6, "labelFontSize": 14, "labelColor": "#111", "labelFont": "Liberation Sans, Noto Sans CJK SC", "labelLimit": 400, "symbolSize": 361, "symbolOffset": 8, "labelOffset": 19, "rowPadding": 6.5,
    "encode": {"symbols": {"update": {
     "shape": {"signal": "datum.value === 'expectile 突破' ? 'circle' : 'stroke'"},
     "size": {"signal": "datum.value === 'expectile 突破' ? 40 : 784"},
     "strokeWidth": {"signal": "datum.value === '日收益' ? 0.8 : (datum.value === 'expectile 突破' ? 0 : 1.8)"},
     "stroke": {"signal": "datum.value === '日收益' ? '#a0a6b0' : (datum.value === '滚动 5% 分位数 VaR' ? '#2563eb' : '#dc2626')"},
     "fill": {"signal": "datum.value === 'expectile 突破' ? '#dc2626' : 'transparent'"},
     "opacity": {"value": 1}
    }}}
   }}}}
]
},
{
"width": 1132, "height": 200,
"data": {"name": "vol"},
"mark": {"type": "line", "color": "#e8590c", "strokeWidth": 1.3},
"encoding": {
 "x": {"field": "t", "type": "quantitative", "scale": {"domain": [-62.45, 1311.45], "nice": false, "zero": false}, "axis": {"values": [0,200,400,600,800,1000,1200], "format": "d", "title": "交易日", "titlePadding": 16}},
 "y": {"field": "v", "type": "quantitative", "scale": {"domain": [0.48, 4.29], "nice": false, "zero": false}, "axis": {"values": [1,2,3,4], "title": "真实条件波动率", "titlePadding": 13}}
}
}
],
"spacing": 16,
"config": {
 "font": "Noto Sans CJK SC",
 "view": {"stroke": "#222", "strokeWidth": 0.9},
 "axis": {"labelFontSize": 12, "labelColor": "#111", "labelFont": "Liberation Sans, Noto Sans CJK SC", "tickColor": "#222", "tickSize": 4, "tickWidth": 0.9, "gridColor": "#e6e6e6", "gridWidth": 0.8, "domain": false, "titleFontSize": 13, "titleFontWeight": "normal", "titleColor": "#111", "titleFont": "Noto Sans CJK SC", "labelPadding": 3}
}
}
